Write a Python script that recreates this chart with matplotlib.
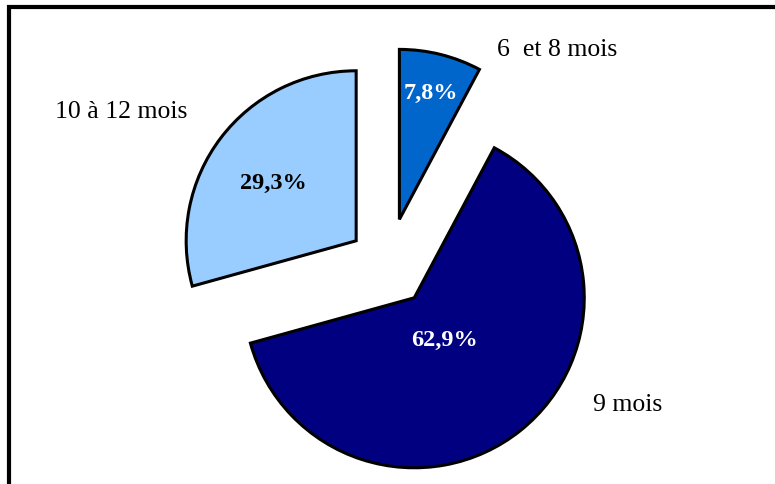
import matplotlib
matplotlib.use("Agg")
import matplotlib.pyplot as plt
from matplotlib.patches import Rectangle

# age groups and shares (%)
labels = ["6  et 8 mois", "9 mois", "10 à 12 mois"]
shares = [7.8, 62.9, 29.3]
pct_text = ["7,8%", "62,9%", "29,3%"]
colors = ["#0066CC", "#000080", "#99CCFF"]
pct_colors = ["white", "white", "black"]

W, H = 775, 485
fig = plt.figure(figsize=(W / 100, H / 100), dpi=100)
ax = fig.add_axes([0, 0, 1, 1])

# pie in pixel-like coords, y measured upward; explode is in data units here
cx, cy, r = 388, H - 266, 170
ax.pie(shares, colors=colors, startangle=90, counterclock=False,
       explode=[47, 42, 40], radius=r, center=(cx, cy),
       wedgeprops=dict(edgecolor="black", linewidth=2.2),
       frame=True)
ax.set_xlim(0, W)
ax.set_ylim(0, H)
ax.set_aspect("equal")
ax.axis("off")

serif = ["Liberation Serif", "DejaVu Serif"]

# category labels outside the pie
cat_pos = [(557, 50), (628, 405), (121, 112)]
for (x, y), t in zip(cat_pos, labels):
    ax.text(x, H - y, t, ha="center", va="center", fontsize=18.5,
            family=serif, color="black")

# percentages inside the slices
pct_pos = [(431, 93), (445, 340), (273, 183)]
for (x, y), t, c in zip(pct_pos, pct_text, pct_colors):
    ax.text(x, H - y, t, ha="center", va="center", fontsize=17.5,
            fontweight="bold", family=serif, color=c)

# chart frame, cut off at right and bottom edges
fig.add_artist(Rectangle((8.5 / W, -0.2), 1.2, 1 - 7.5 / H + 0.2,
                         transform=fig.transFigure, fill=False,
                         edgecolor="black", linewidth=3))

fig.savefig("out.png", dpi=100, facecolor="white")
